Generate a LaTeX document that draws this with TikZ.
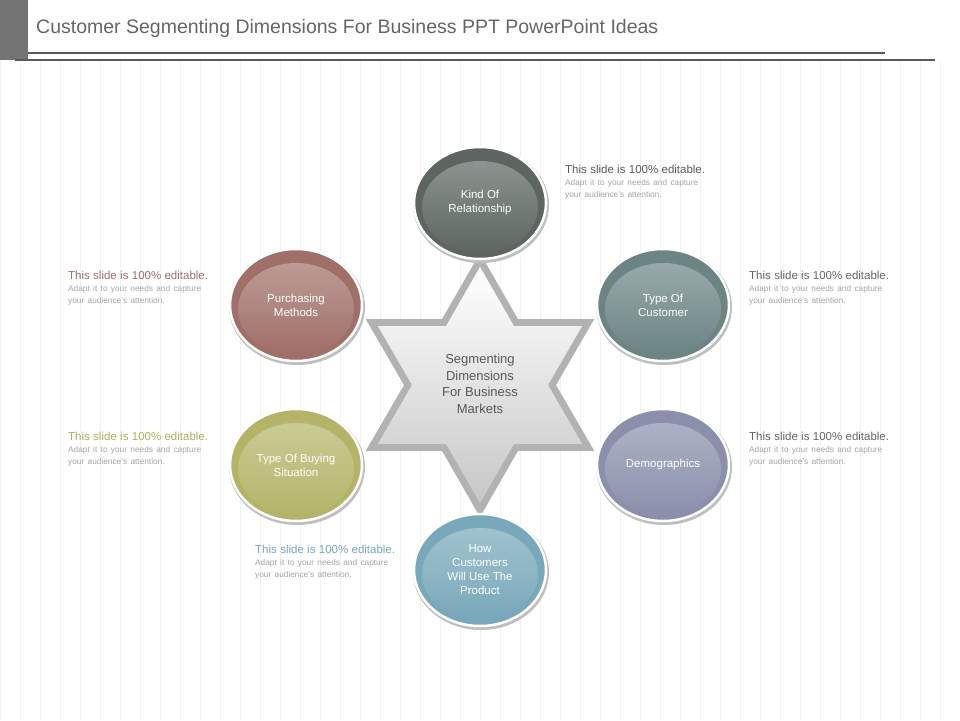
\documentclass[tikz,border=0pt]{standalone}
\usepackage{fontspec}
\setmainfont{Liberation Sans}
\usetikzlibrary{shapes.geometric}
\definecolor{ckr}{RGB}{92,101,96}
\definecolor{cpm}{RGB}{160,111,104}
\definecolor{ctc}{RGB}{108,132,132}
\definecolor{ctb}{RGB}{180,180,105}
\definecolor{cdm}{RGB}{138,144,172}
\definecolor{chc}{RGB}{120,168,186}
\definecolor{tb4}{RGB}{176,176,95}
\begin{document}
\begin{tikzpicture}[x=1pt,y=-1pt,
  bub/.style={ellipse,minimum width=132,minimum height=112,
    text=white,align=center,font=\fontsize{11.5}{14}\selectfont},
  blurb/.style={anchor=north west,inner sep=0,text width=143pt}]
\useasboundingbox (0,0) rectangle (960,720);
\fill[white] (0,0) rectangle (960,720);
\draw[black!5,step=20] (0,60) grid (960,720);
% title
\fill[black!55] (0,0) rectangle (28,60);
\node[anchor=west,text=black!60,font=\fontsize{19.5}{22}\selectfont,inner sep=0] (title) at (36,28) {Customer Segmenting Dimensions For Business PPT PowerPoint Ideas};
\draw[black!65,line width=2.5] (28,53) -- (885,53);
\draw[black!65,line width=2.5] (15,60) -- (935,60);
% star
\def\R{132}\def\r{76}
\path (480,385) coordinate (c);
\fill[black!30] ([shift={(90:\R)}]c)
  \foreach \k in {0,...,5}{ -- ([shift={(\k*60+120:\r)}]c) -- ([shift={(\k*60+150:\R)}]c)} -- cycle;
\shade[top color=white,bottom color=black!22] ([shift={(90:\R-14)}]c)
  \foreach \k in {0,...,5}{ -- ([shift={(\k*60+120:\r-8)}]c) -- ([shift={(\k*60+150:\R-14)}]c)} -- cycle;
\node[text=black!65,align=center,font=\fontsize{13}{16.5}\selectfont] (center) at (480,384) {Segmenting\\Dimensions\\For Business\\Markets};
% bubbles
\foreach \n/\x/\y/\col/\t in {
  kr/480/203/ckr/{Kind Of\\Relationship},
  pm/296/305/cpm/{Purchasing\\Methods},
  tc/663/305/ctc/{Type Of\\Customer},
  tb/296/465/ctb/{Type Of Buying\\Situation},
  dm/663/465/cdm/{Demographics},
  hc/480/570/chc/{How\\Customers\\Will Use The\\Product}}{
  \fill[black!25] (\x+1,\y+2) ellipse (68 and 58);
  \fill[\col] (\x,\y) ellipse (66 and 56);
  \shade[top color=\col!70!white,bottom color=\col] (\x,\y+4) ellipse (58 and 46);
  \draw[white,line width=2.5] (\x,\y) ellipse (66 and 56);
  \node[bub] (\n) at (\x,\y) {\t};
}
% blurbs
\foreach \n/\x/\y/\col in {
  b1/565/165/black!65,
  b2/68/271/cpm,
  b3/749/271/black!60,
  b4/68/432/tb4,
  b5/749/432/black!60,
  b6/255/545/chc}{
  \node[blurb] (\n) at (\x,\y) {\fontsize{11.5}{14}\selectfont\color{\col}This slide is 100\% editable. \fontsize{8.3}{15.5}\selectfont\color{black!35}Adapt it to your needs and capture your audience's attention.};
}
\end{tikzpicture}
\end{document}
